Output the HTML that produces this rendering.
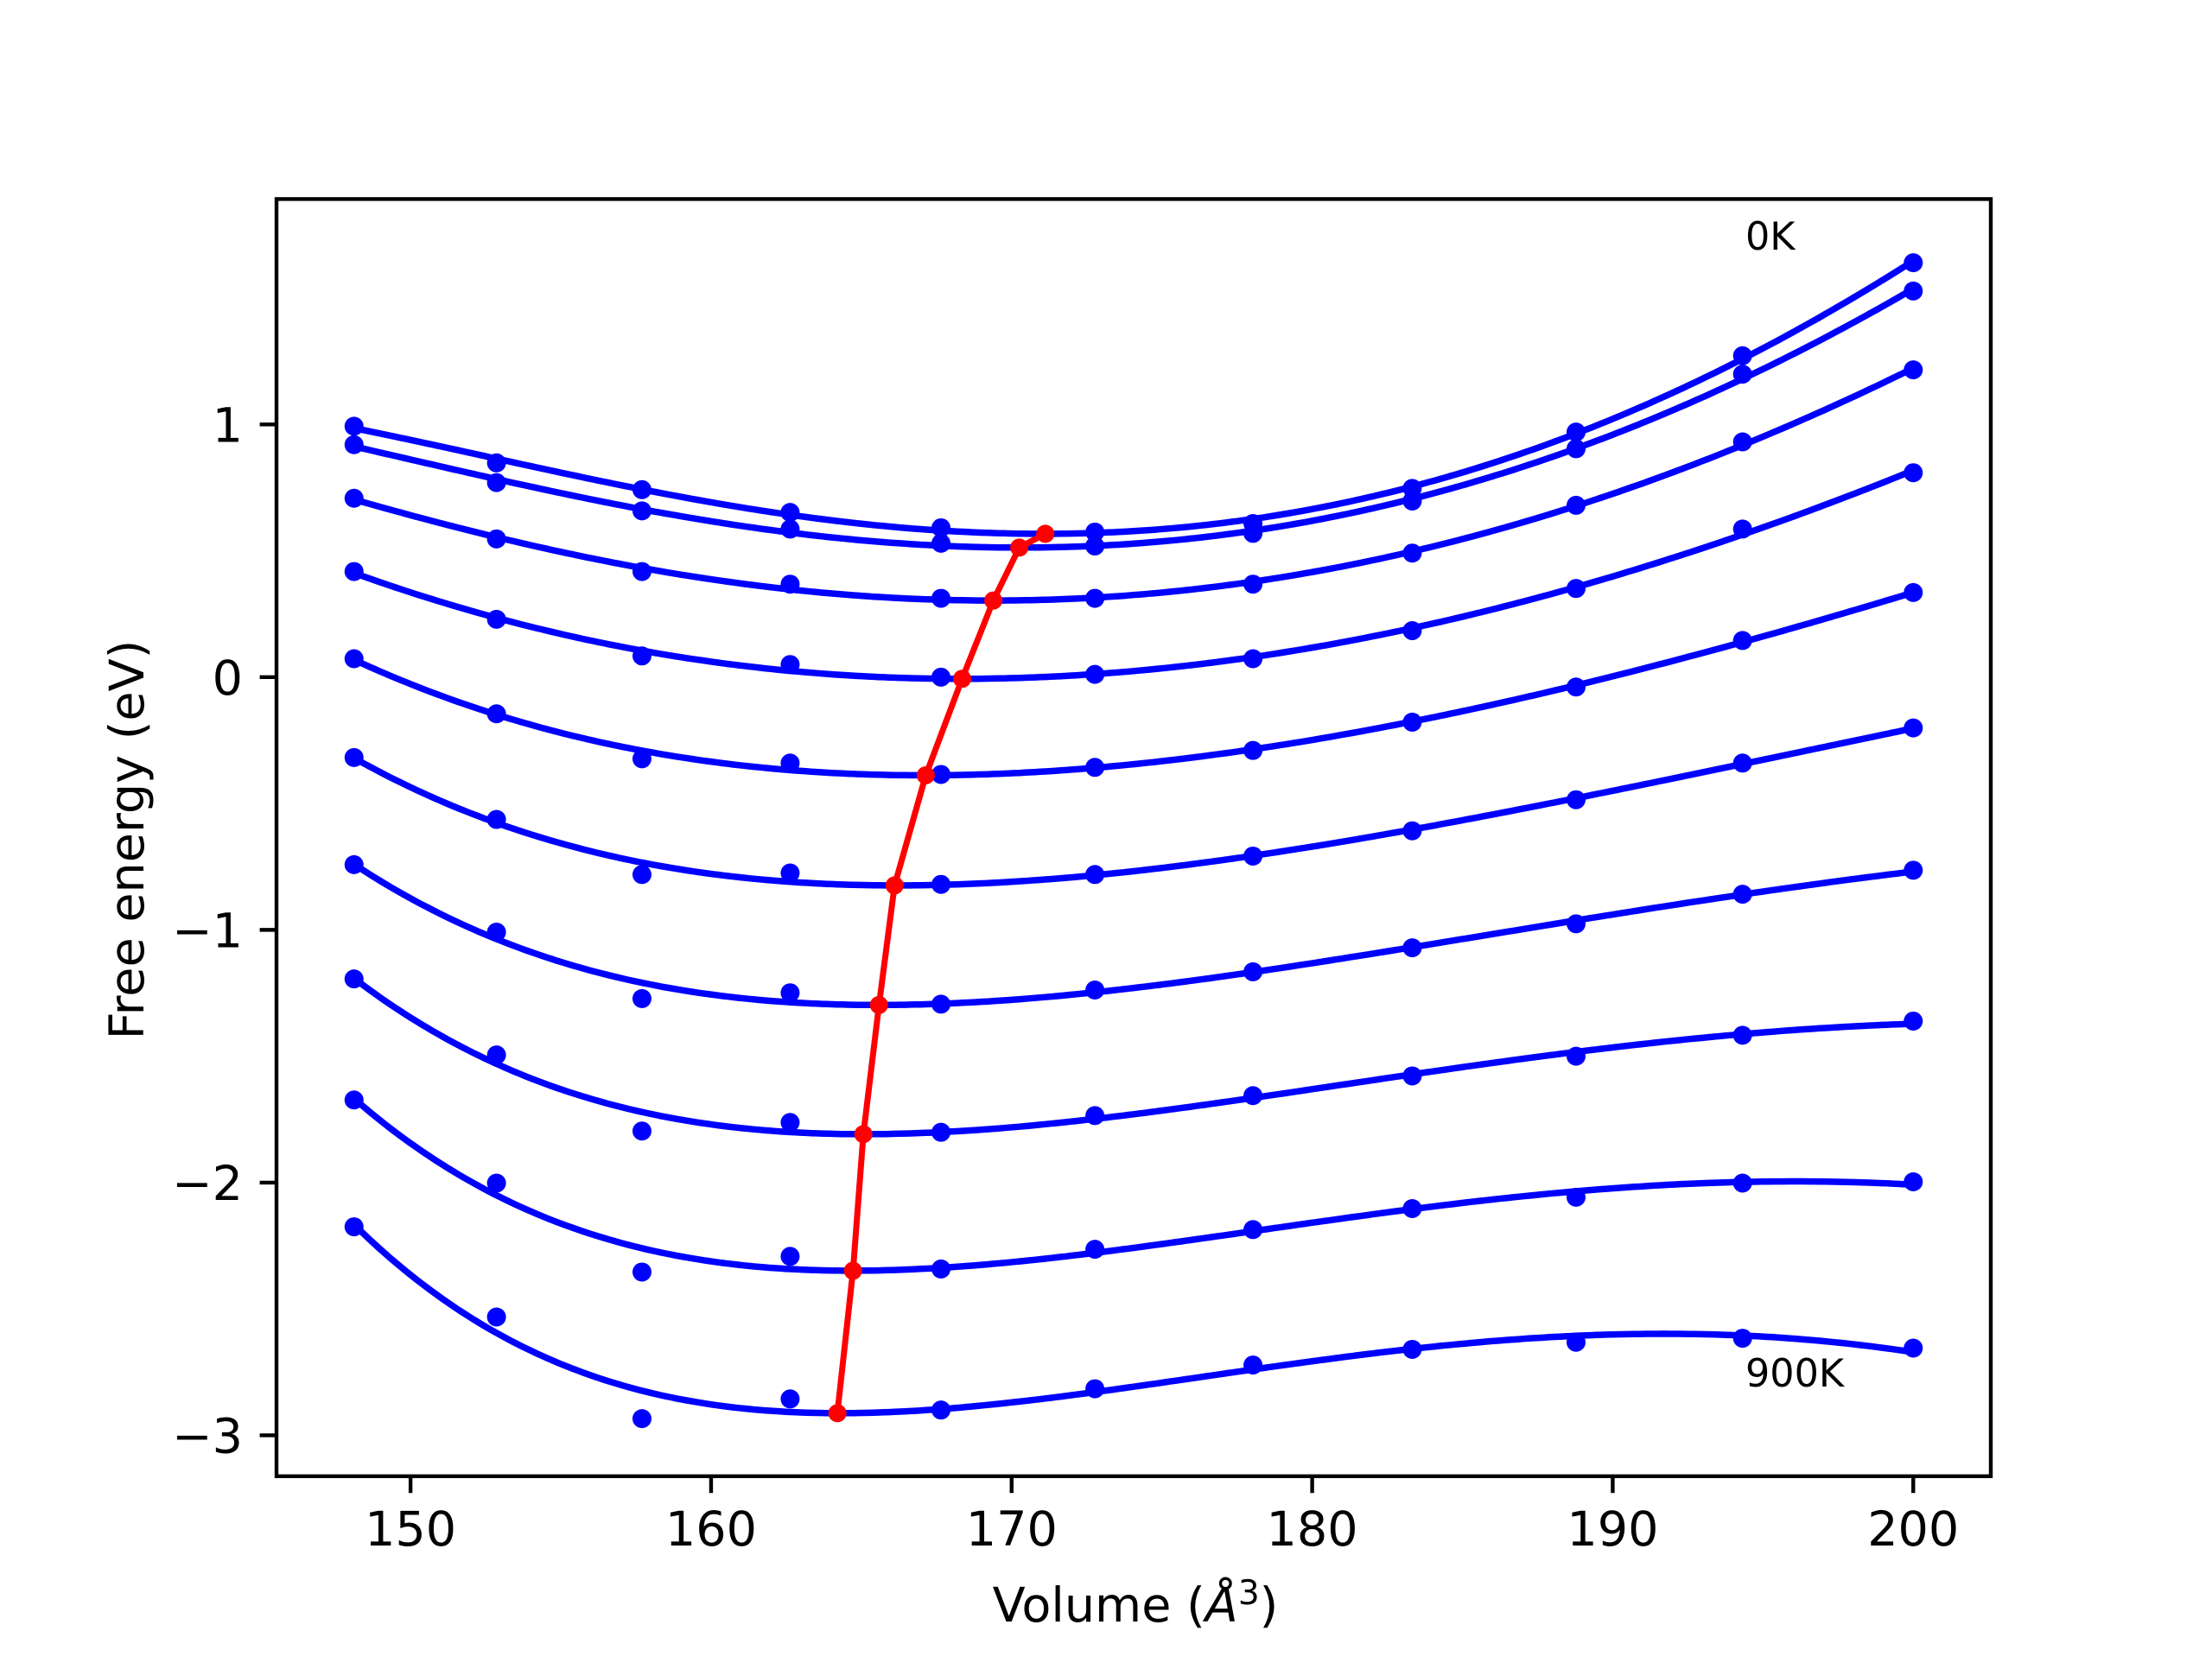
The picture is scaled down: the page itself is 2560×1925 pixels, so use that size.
<!DOCTYPE html>
<html><head><meta charset="utf-8"><style>
html,body{margin:0;padding:0;background:#fff}
svg text{font-family:"DejaVu Sans","Liberation Sans",sans-serif}
</style></head><body>
<svg id="chart" width="2560" height="1920" viewBox="0 0 2560 1920" xmlns="http://www.w3.org/2000/svg">
<rect width="2560" height="1920" fill="#fff"/>
<defs><clipPath id="plotclip"><rect x="320" y="230.4" width="1984" height="1478.4"/></clipPath></defs>
<g id="curves" clip-path="url(#plotclip)"></g>
<g id="axes"></g>
</svg>
<script>
const volumes=[148.12,152.86,157.7,162.63,167.65,172.77,178.03,183.33,188.78,194.32,200.0];
const e0K=[0.993,0.848,0.742,0.652,0.591,0.574,0.608,0.747,0.970,1.272,1.640];
const e100K=[0.920,0.770,0.658,0.586,0.530,0.519,0.569,0.697,0.904,1.199,1.528];
const e200K=[0.708,0.547,0.418,0.368,0.312,0.312,0.368,0.491,0.680,0.931,1.216];
const e300K=[0.418,0.229,0.084,0.050,0.0,0.011,0.073,0.184,0.351,0.586,0.809];
const e400K=[0.073,-0.145,-0.323,-0.340,-0.385,-0.357,-0.290,-0.178,-0.039,0.145,0.335];
const e500K=[-0.318,-0.563,-0.781,-0.775,-0.820,-0.781,-0.708,-0.608,-0.485,-0.340,-0.201];
const e600K=[-0.742,-1.009,-1.272,-1.249,-1.294,-1.238,-1.166,-1.071,-0.976,-0.859,-0.764];
const e700K=[-1.194,-1.495,-1.796,-1.762,-1.801,-1.735,-1.656,-1.578,-1.500,-1.417,-1.361];
const e800K=[-1.673,-2.002,-2.354,-2.292,-2.342,-2.264,-2.186,-2.103,-2.058,-2.002,-1.997];
const e900K=[-2.175,-2.532,-2.934,-2.856,-2.900,-2.816,-2.722,-2.660,-2.632,-2.616,-2.655];
const seriesList=[e0K,e100K,e200K,e300K,e400K,e500K,e600K,e700K,e800K,e900K];
const xTicks=[150,160,170,180,190,200];
const yTicks=[-3,-2,-1,0,1];

const NS="http://www.w3.org/2000/svg";
const L=320,R=2304,T=230.4,B=1708.8;
const xMin=145.54,xMax=202.58,yMin=-3.162,yMax=1.892;
const sx=v=>L+(v-xMin)/(xMax-xMin)*(R-L);
const sy=v=>B-(v-yMin)/(yMax-yMin)*(B-T);
function mk(tag,attrs,parent){const e=document.createElementNS(NS,tag);for(const k in attrs)e.setAttribute(k,attrs[k]);parent.appendChild(e);return e;}
const curves=document.getElementById('curves'),axes=document.getElementById('axes');

// Birch-Murnaghan style fit: cubic in x=V^(-2/3)
function fit(vs,es){
  const n=4,A=[...Array(n)].map(()=>Array(n+1).fill(0));
  vs.forEach((v,i)=>{const x=Math.pow(v,-2/3)*30;const p=[1,x,x*x,x*x*x];
    for(let r=0;r<n;r++){for(let c=0;c<n;c++)A[r][c]+=p[r]*p[c];A[r][n]+=p[r]*es[i];}});
  for(let i=0;i<n;i++){let m=i;for(let k=i+1;k<n;k++)if(Math.abs(A[k][i])>Math.abs(A[m][i]))m=k;[A[i],A[m]]=[A[m],A[i]];
    for(let k=0;k<n;k++)if(k!==i){const f=A[k][i]/A[i][i];for(let j=i;j<=n;j++)A[k][j]-=f*A[i][j];}}
  const c=A.map((r,i)=>r[n]/r[i]);
  return v=>{const x=Math.pow(v,-2/3)*30;return c[0]+c[1]*x+c[2]*x*x+c[3]*x*x*x;};
}
const minV=[],minE=[];
seriesList.forEach((es,si)=>{
  const f=fit(volumes,es);
  const v0=volumes[0],v1=volumes[volumes.length-1];
  let d="",bv=v0,be=Infinity;
  for(let k=0;k<=300;k++){const v=v0+(v1-v0)*k/300,e=f(v);d+=(k?"L":"M")+sx(v).toFixed(1)+","+sy(e).toFixed(1);if(e<be){be=e;bv=v;}}
  const p=mk('path',{d:d,fill:'none',stroke:'#0000ff','stroke-width':7.5},curves);
  
  
  minV.push(bv);minE.push(be);
  es.forEach((e,i)=>{
    const c=mk('circle',{cx:sx(volumes[i]),cy:sy(e),r:11,fill:'#0000ff'},curves);
    
    
  });
});
let md="";minV.forEach((v,i)=>{md+=(i?"L":"M")+sx(v).toFixed(1)+","+sy(minE[i]).toFixed(1);});
const ml=mk('path',{d:md,fill:'none',stroke:'#ff0000','stroke-width':7},curves);


minV.forEach((v,i)=>{
  const c=mk('circle',{cx:sx(v),cy:sy(minE[i]),r:10.5,fill:'#ff0000'},curves);
  
  
});

const frame=mk('rect',{x:L,y:T,width:R-L,height:B-T,fill:'none',stroke:'#000','stroke-width':4.4},axes);


xTicks.forEach(t=>{
  const x=sx(t);
  const tk=mk('line',{x1:x,y1:B,x2:x,y2:B+19.4,stroke:'#000','stroke-width':4.4},axes);
  
  
  const tl=mk('text',{x:x,y:1789,'font-size':55.6,'text-anchor':'middle',fill:'#000'},axes);
  tl.textContent=t;
  
  
});
yTicks.forEach(t=>{
  const y=sy(t);
  const tk=mk('line',{x1:L-19.4,y1:y,x2:L,y2:y,stroke:'#000','stroke-width':4.4},axes);
  
  
  const tl=mk('text',{x:281,y:y+20,'font-size':55.6,'text-anchor':'end',fill:'#000'},axes);
  tl.textContent=t<0?"\u2212"+Math.abs(t):String(t);
  
  
});
</script>
<svg style="position:absolute;left:0;top:0" width="2560" height="1920">
<text x="1314" y="1877" font-size="55.6" text-anchor="middle" font-family="DejaVu Sans, Liberation Sans, sans-serif">Volume (<tspan font-style="italic">Å</tspan><tspan font-size="39" dy="-20">3</tspan><tspan dy="20">)</tspan></text>
<text x="0" y="0" font-size="55.6" text-anchor="middle" font-family="DejaVu Sans, Liberation Sans, sans-serif" transform="translate(166,972) rotate(-90)">Free energy (eV)</text>
<text x="2020" y="289" font-size="44.5" font-family="DejaVu Sans, Liberation Sans, sans-serif">0K</text>
<text x="2020" y="1605" font-size="44.5" font-family="DejaVu Sans, Liberation Sans, sans-serif">900K</text>
</svg>
</body></html>
